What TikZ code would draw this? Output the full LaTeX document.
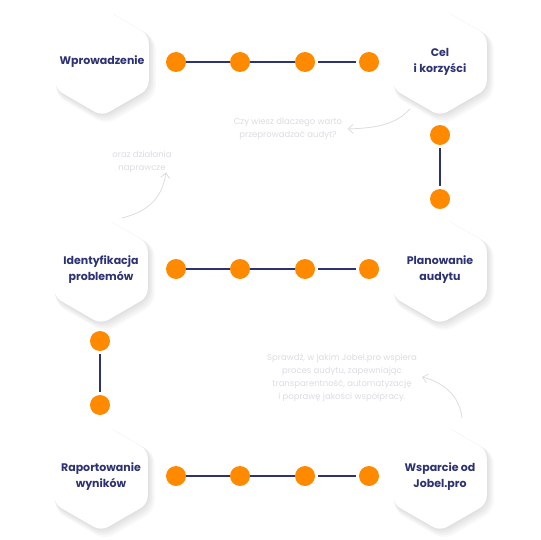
\documentclass[tikz,border=0pt]{standalone}
\usepackage{fontspec}
\setmainfont{Poppins}
\usetikzlibrary{arrows.meta}
\definecolor{navy}{HTML}{2D3272}
\definecolor{orng}{HTML}{FF8A00}
\definecolor{hint}{HTML}{DCDDE3}

\begin{document}
\begin{tikzpicture}[x=1pt, y=-1pt, line join=round, line cap=round,
	hexbody/.style={fill=white, rounded corners=8pt},
	hexshade/.style={fill=black, fill opacity=.022, rounded corners=10pt},
	label/.style={align=center, text=navy, font=\fontsize{11}{16}\selectfont\bfseries},
	dot/.style={circle, fill=orng, minimum size=20pt, inner sep=0pt},
	link/.style={navy, line width=2.2pt, line cap=butt, shorten <=3pt, shorten >=3pt},
	note/.style={text=hint, font=\fontsize{8.5}{13}\selectfont, align=center},
	hand/.style={draw=hint, line width=.8pt, -{Straight Barb[length=5pt,width=9pt]}}]
	\fill[white] (0,0) rectangle (540,540);
	\useasboundingbox (0,0) rectangle (540,540);
	\def\R{54}
	% etapy
	\foreach \name/\x/\y/\txt in {intro/102/62/{Wprowadzenie}, goal/440/62/{Cel\\i korzyści},
		ident/101/270/{Identyfikacja\\problemów}, plan/440/270/{Planowanie\\audytu},
		report/101/477/{Raportowanie\\wyników}, support/440/477/{Wsparcie od\\Jobel.pro}} {
		\foreach \s in {1,...,5}
			\fill[hexshade] (\x+0.8*\s,\y+1.1*\s) +(90:\R+0.7*\s) -- +(30:\R+0.7*\s) -- +(-30:\R+0.7*\s) -- +(-90:\R+0.7*\s) -- +(-150:\R+0.7*\s) -- +(150:\R+0.7*\s) -- cycle;
		\fill[hexbody] (\x,\y) +(90:\R) -- +(30:\R) -- +(-30:\R) -- +(-90:\R) -- +(-150:\R) -- +(150:\R) -- cycle;
		\node[label] (\name) at (\x,\y) {\txt};
	}
	% kropki w wierszach
	\foreach \r/\y in {a/62, b/269, c/476} {
		\foreach \i/\x in {1/176, 2/240, 3/305, 4/369}
			\node[dot] (\r\i) at (\x,\y) {};
		\draw[link] (\r1) -- (\r2) (\r2) -- (\r3) (\r3) -- (\r4);
	}
	% kropki pionowe
	\node[dot] (ra) at (440,135) {};
	\node[dot] (rb) at (440,199) {};
	\node[dot] (la) at (100,341) {};
	\node[dot] (lb) at (100,405) {};
	\draw[link] (ra) -- (rb);
	\draw[link] (la) -- (lb);
	% podpowiedzi
	\node[note] (why) at (288,129) {Czy wiesz dlaczego warto\\przeprowadzać audyt?};
	\node[note] (fix) at (142,162) {oraz działania\\naprawcze};
	\node[note] (jobel) at (342,378) {Sprawdź, w jakim Jobel.pro wspiera\\proces audytu, zapewniając\\transparentność, automatyzację\\i poprawę jakości współpracy.};
	\coordinate (w1) at (410,109);
	\coordinate (w2) at (122,218);
	\coordinate (w3) at (462,418);
	\coordinate (t3) at (422,377);
	\draw[hand] (w1) .. controls (396,124) and (378,128) .. ([xshift=2pt]why.east);
	\draw[hand] (w2) .. controls (146,212) and (162,200) .. ([xshift=24pt,yshift=4pt]fix.south);
	\draw[hand] (w3) .. controls (460,398) and (446,383) .. (t3);
\end{tikzpicture}
\end{document}
